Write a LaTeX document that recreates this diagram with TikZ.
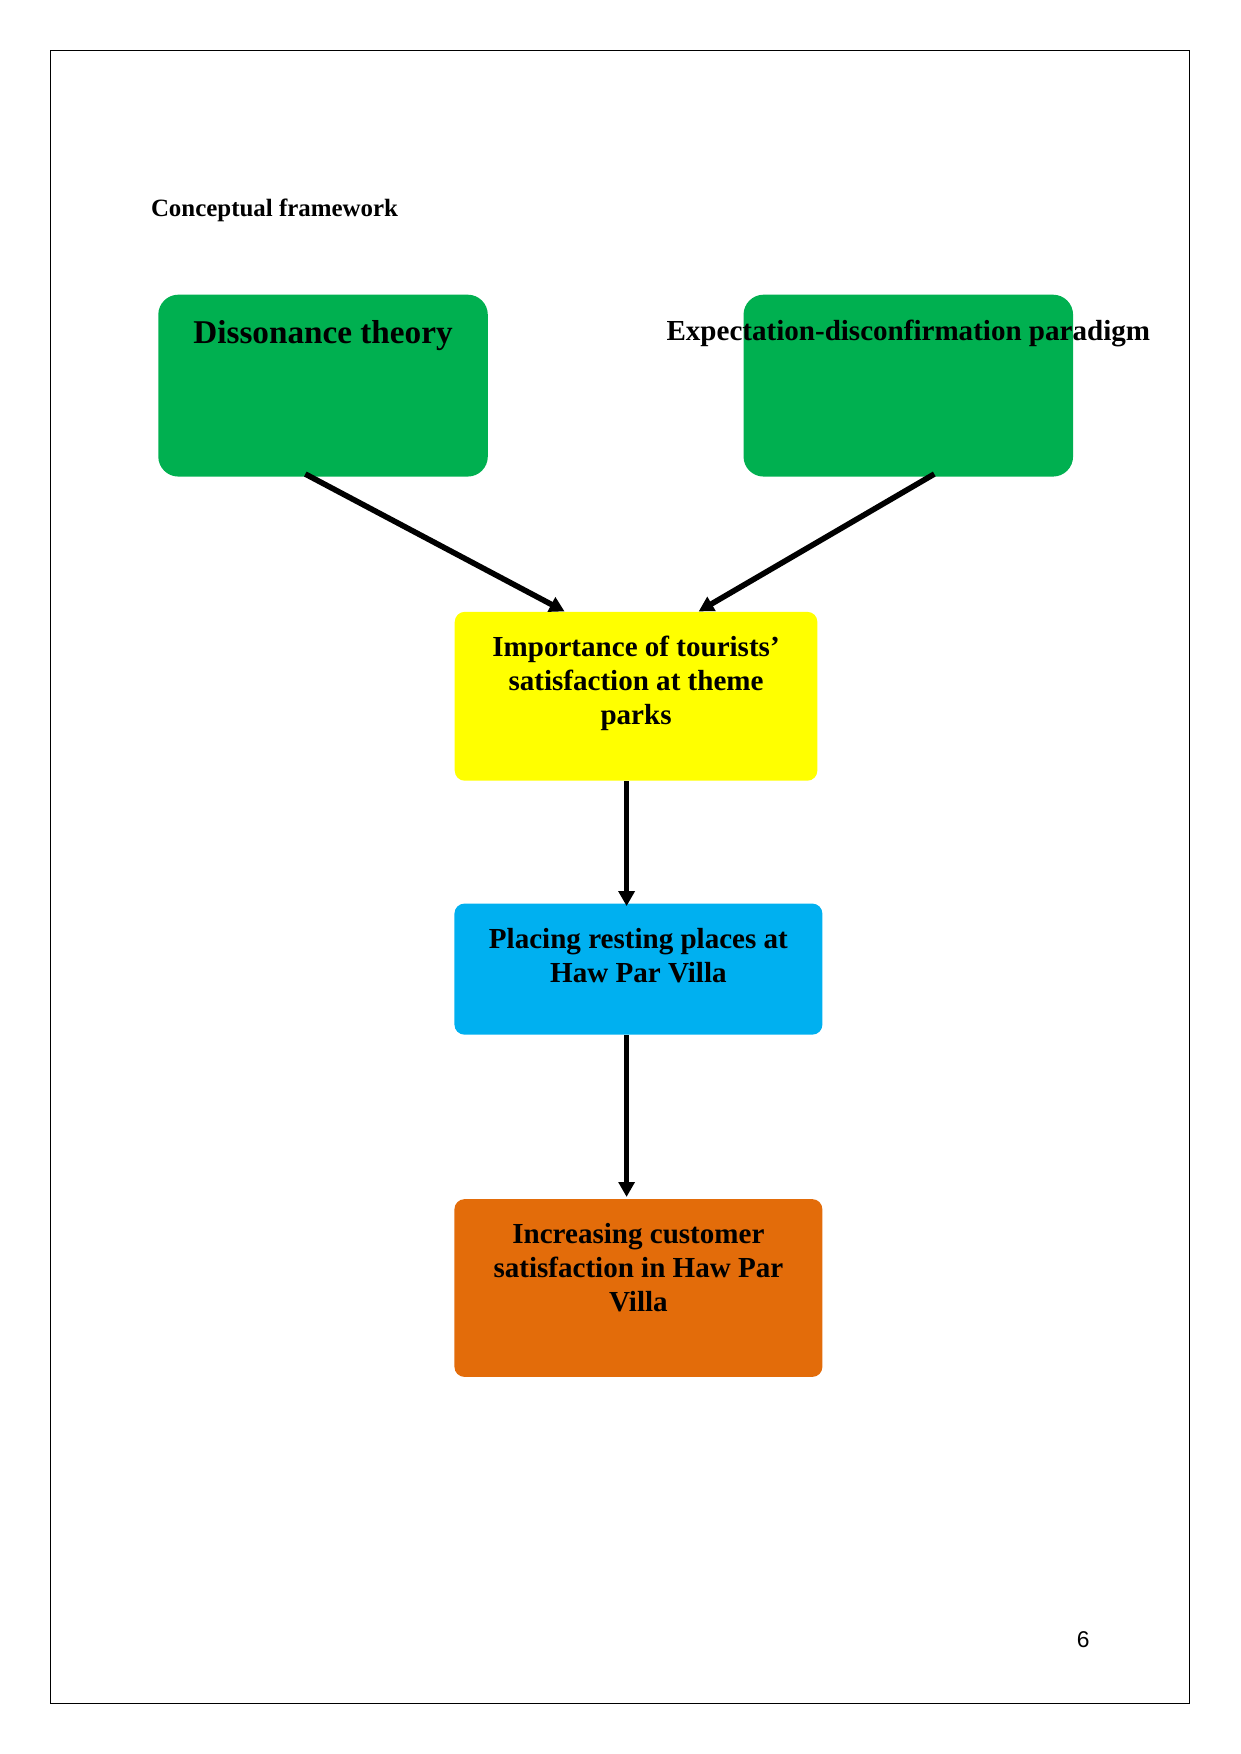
\documentclass[tikz,border=0pt]{standalone}
\usepackage{fontspec}
\setmainfont{Liberation Serif}
\newfontfamily\pagenofont{Liberation Sans}
\usetikzlibrary{arrows.meta,positioning}
\definecolor{theorygreen}{HTML}{00B050}
\definecolor{impyellow}{HTML}{FFFF00}
\definecolor{placeblue}{HTML}{00B0F0}
\definecolor{incorange}{HTML}{E36C0A}

\begin{document}
\begin{tikzpicture}[>={Triangle[length=7.2pt,width=7.6pt]},
    theory/.style={fill=theorygreen, rounded corners=0.34cm, minimum width=5.58cm, minimum height=3.08cm},
    flowbox/.style={rounded corners=0.17cm, minimum width=6.2cm},
    boxtext/.style={font=\bfseries\fontsize{14}{16.4}\selectfont, align=center, inner sep=0pt},
    link/.style={->, line width=2.7pt}]
    \useasboundingbox (0,0) rectangle (21,29.7);
    \draw[line width=0.6pt] (0.85,0.85) rectangle (20.14,28.84);

    \node[anchor=base west, inner sep=0pt, font=\bfseries\fontsize{12}{14}\selectfont] (title) at (2.55,26.04) {Conceptual framework};

    \node[theory] (dis) at (5.47,23.17) {};
    \node[theory] (exp) at (15.38,23.17) {};
    \node[boxtext, anchor=base, font=\bfseries\fontsize{16}{19}\selectfont] (distxt) at ([yshift=-0.83cm]dis.north) {Dissonance theory};
    \node[boxtext, anchor=base] (exptxt) at ([yshift=-0.78cm]exp.north) {Expectation-disconfirmation paradigm};

    \node[flowbox, fill=impyellow, minimum width=6.14cm, minimum height=2.86cm] (imp) at (10.77,17.91) {};
    \node[boxtext, anchor=north] (imptxt) at ([yshift=-11.5pt]imp.north) {Importance of tourists’\\satisfaction at theme\\parks};

    \node[flowbox, fill=placeblue, minimum width=6.23cm, minimum height=2.22cm] (place) at (10.81,13.29) {};
    \node[boxtext, anchor=north] (placetxt) at ([yshift=-12pt]place.north) {Placing resting places at\\Haw Par Villa};

    \node[flowbox, fill=incorange, minimum width=6.23cm, minimum height=3.01cm] (inc) at (10.81,7.89) {};
    \node[boxtext, anchor=north] (inctxt) at ([yshift=-11.8pt]inc.north) {Increasing customer\\satisfaction in Haw Par\\Villa};

    \draw[link] ([xshift=-0.3cm,yshift=0.05cm]dis.south) -- ([xshift=-1.21cm]imp.north);
    \draw[link] ([xshift=0.44cm,yshift=0.05cm]exp.south) -- ([xshift=1.06cm]imp.north);
    \draw[link] ([xshift=-0.16cm]imp.south) -- ([xshift=-0.2cm,yshift=-0.05cm]place.north);
    \draw[link] ([xshift=-0.2cm]place.south) -- ([xshift=-0.2cm,yshift=0.03cm]inc.north);

    \node[font=\pagenofont\fontsize{11}{13}\selectfont] (pageno) at (18.34,1.93) {6};
\end{tikzpicture}
\end{document}
